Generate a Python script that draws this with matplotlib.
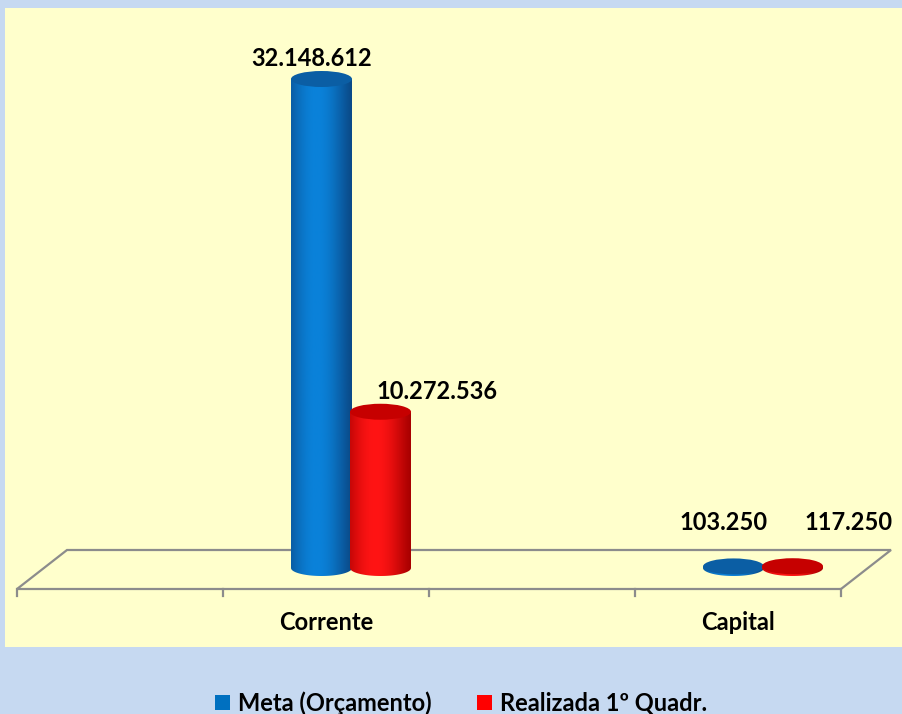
import numpy as np
import matplotlib.pyplot as plt
from matplotlib.patches import Ellipse, Polygon, Rectangle, Patch
from matplotlib.colors import to_rgb

plt.rcParams['font.family'] = ['Lato', 'DejaVu Sans']

# data
categories = ['Corrente', 'Capital']
series_names = ['Meta (Orçamento)', 'Realizada 1º Quadr.']
meta = [32148612, 103250]
realizada = [10272536, 117250]
series_values = [meta, realizada]

side_dark = ['#0a4a88', '#a80000']
side_light = ['#0a82da', '#ff1414']
top_colors = ['#0b5ea4', '#c60000']
legend_colors = ['#0070c0', '#ff0000']

# layout (pixels)
W, H = 902, 714
CAT_PX = 412          # distance between categories
CAT0_PX = 351         # x of first category (mid depth)
BASE_PX = 568         # y of bar base
PX_PER_VAL = 489 / 32148612
DEPTH_X, DEPTH_Y = 50, 39
BAR_PX = 61
ELL_PX = 16

fig = plt.figure(figsize=(W / 100, H / 100), dpi=100, facecolor='#c6d9f1')
fig.patches.append(Rectangle((5 / W, 1 - 647 / H), 1, (647 - 8) / H,
                             transform=fig.transFigure, fc='#ffffcc', ec='none', zorder=-5))

ax = fig.add_axes([0, 0, 1, 1])
ax.patch.set_visible(False)
ax.axis('off')
ax.set_zorder(2)
ux = 1 / CAT_PX
uy = 1 / PX_PER_VAL

# floor
fy = -(DEPTH_Y / 2 + 1.5) * uy
by = fy + DEPTH_Y * uy
fx0, fx1 = -0.75 - DEPTH_X / 2 * ux, 1.25 - DEPTH_X / 2 * ux
floor = Polygon([(fx0, fy), (fx1, fy), (fx1 + DEPTH_X * ux, by), (fx0 + DEPTH_X * ux, by)],
                closed=True, fill=False, ec='#8c8c8c', lw=1.6, zorder=1)
ax.add_patch(floor)
for tx in np.arange(-0.75, 1.3, 0.5):
    xx = tx - DEPTH_X / 2 * ux
    ax.plot([xx, xx], [fy, fy - 7 * uy], color='#8c8c8c', lw=1.6, zorder=1)

# cylinders
t = np.linspace(0, 1, 256)
prof = np.clip(np.cos(np.pi * (t - 0.42) / 1.15), 0, 1) ** 1.2
label_dx = [-10, 56]
label_lift = [20, 44]
hw = BAR_PX / 2 * ux
eh = ELL_PX * uy
for j, vals in enumerate(series_values):
    dark = np.array(to_rgb(side_dark[j]))
    light = np.array(to_rgb(side_light[j]))
    grad = dark[None, :] + (light - dark)[None, :] * prof[:, None]
    grad = grad[None, :, :]
    for i, v in enumerate(vals):
        cx = i + (j - 0.5) * 59 * ux
        th = np.linspace(np.pi, 2 * np.pi, 60)
        pts = [(cx - hw, v)] + [(cx + hw * np.cos(a), eh / 2 * np.sin(a)) for a in th] + [(cx + hw, v)]
        body = Polygon(pts, closed=True, fc='none', ec='none', zorder=3 + j)
        ax.add_patch(body)
        im = ax.imshow(grad, extent=(cx - hw, cx + hw, -eh / 2, v), aspect='auto',
                       interpolation='bilinear', zorder=3 + j)
        im.set_clip_path(body)
        ax.add_patch(Ellipse((cx, v), 2 * hw, eh, fc=top_colors[j], ec='none', zorder=3 + j))
        ax.annotate(f'{v:,}'.replace(',', '.'), (cx, v),
                    xytext=(label_dx[j] * 0.72, label_lift[i] * 0.72), textcoords='offset points',
                    ha='center', va='center', fontsize=17, fontweight='bold', color='black', zorder=10)

for i, name in enumerate(categories):
    ax.text(i - DEPTH_X / 2 * ux, (BASE_PX - 622) * uy, name, ha='center', va='center',
            fontsize=17, fontweight='bold')

ax.set_xlim(-CAT0_PX / CAT_PX, (W - CAT0_PX) / CAT_PX)
ax.set_ylim(-(H - BASE_PX) * uy, BASE_PX * uy)

handles = [Patch(fc=c, ec='none') for c in legend_colors]
fig.legend(handles, series_names, loc='center', bbox_to_anchor=(461 / W, 1 - 703 / H),
           ncol=2, frameon=False, prop={'size': 17, 'weight': 'bold'},
           handlelength=0.65, handleheight=0.65, handletextpad=0.35, columnspacing=1.9,
           borderpad=0, borderaxespad=0)

fig.savefig('out.png', dpi=100, facecolor=fig.get_facecolor())
